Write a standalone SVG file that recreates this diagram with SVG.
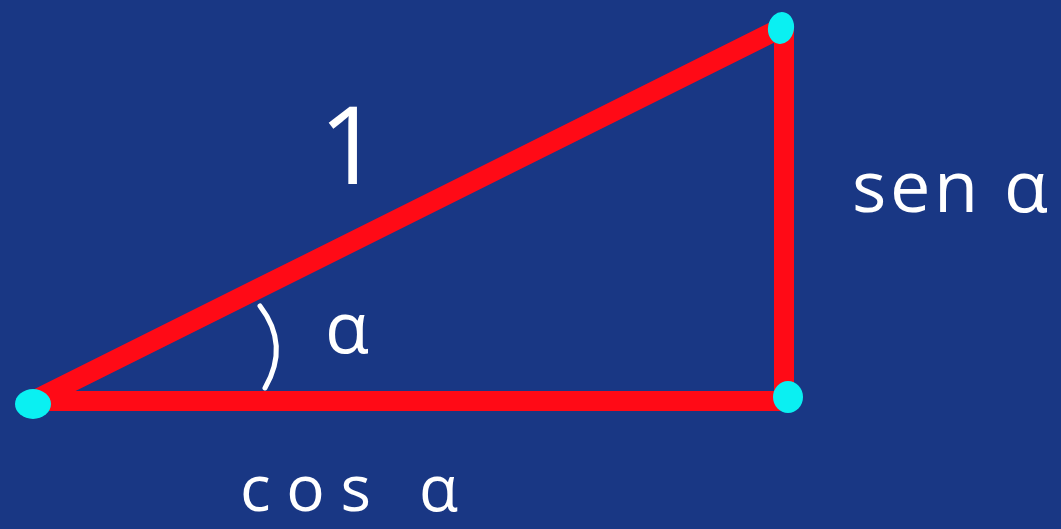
<svg xmlns="http://www.w3.org/2000/svg" width="1061" height="529" viewBox="0 0 1061 529">
<style>
.side{stroke:#ff0a16;stroke-width:20;stroke-linecap:round;fill:none}
.dot{fill:#0af0f2}
.lbl{fill:#ffffff;font-family:"Open Sans","Liberation Sans",sans-serif}
</style>
<rect width="1061" height="529" fill="#193784"/>
<g id="connectors">
<line class="side" x1="33" y1="401" x2="781" y2="28"/>
<line class="side" x1="33" y1="401" x2="790" y2="401"/>
<line class="side" x1="784" y1="28" x2="784" y2="400"/>
<path d="M260,306 Q290,345 265,388" fill="none" stroke="#ffffff" stroke-width="5" stroke-linecap="round"/>
</g>
<g id="node-A"><ellipse class="dot" cx="33" cy="404" rx="18" ry="15"/></g>
<g id="node-B"><ellipse class="dot" cx="781" cy="28" rx="13" ry="16" transform="rotate(10 781 28)"/></g>
<g id="node-C"><ellipse class="dot" cx="788" cy="397" rx="15" ry="16"/></g>
<g id="label-1"><text class="lbl" x="350" y="184" font-size="108" text-anchor="middle">1</text></g>
<g id="label-alpha"><text class="lbl" x="325" y="353" font-size="72">α</text></g>
<g id="label-sen"><text class="lbl" x="852" y="212" font-size="72" textLength="196" lengthAdjust="spacing">sen α</text></g>
<g id="label-cos"><text class="lbl" x="240" y="511" font-size="64" textLength="218" lengthAdjust="spacing">cos α</text></g>
</svg>
